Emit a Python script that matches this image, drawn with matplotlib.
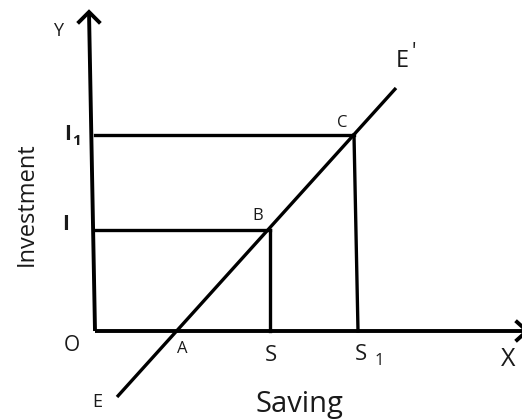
import matplotlib
matplotlib.use("Agg")
import matplotlib.pyplot as plt

# Geometry of the diagram (data units, origin O at 0,0)
y_axis_x = [0, -6]
y_axis_y = [0, 319]
x_axis_x = [0, 432]
x_axis_y = [0, 0]

# saving-investment line E -> E'
line_x = [22, 301]
line_y = [-66, 243]

# points B and C on the line
point_names = ["B", "C"]
point_x = [175, 259]
point_y = [101, 196]
foot_x = [175, 263]   # where the verticals meet the X axis (S, S1)

# labels
tick_y_labels = ["I", "I"]
tick_y_subs = ["", "1"]
tick_x_labels = ["A", "S", "S"]
tick_x_subs = ["", "", "1"]

fig = plt.figure(figsize=(5.22, 4.19), dpi=100)
ax = fig.add_axes([0, 0, 1, 1])
ax.set_xlim(-95, 427)
ax.set_ylim(-88, 331)
ax.axis("off")

font = "Open Sans"
lw_axis = 2.8
lw = 2.4
col = "black"
tcol = "#1a1a1a"

# axes
ax.plot(y_axis_x, y_axis_y, color=col, lw=lw_axis, solid_capstyle="butt")
ax.plot(x_axis_x, x_axis_y, color=col, lw=lw_axis, solid_capstyle="butt")
# arrow heads (open chevrons)
ax.plot([y_axis_x[1] - 10, y_axis_x[1], y_axis_x[1] + 10],
        [y_axis_y[1] - 10, y_axis_y[1], y_axis_y[1] - 10],
        color=col, lw=lw_axis, solid_joinstyle="miter")
ax.plot([x_axis_x[1] - 10, x_axis_x[1], x_axis_x[1] - 10],
        [x_axis_y[1] + 9, x_axis_y[1], x_axis_y[1] - 9],
        color=col, lw=lw_axis, solid_joinstyle="miter", clip_on=True)

# main line
ax.plot(line_x, line_y, color=col, lw=lw, solid_capstyle="butt")

# horizontal and vertical guides
for px, py, fx in zip(point_x, point_y, foot_x):
    ax.plot([0, px], [py, py], color=col, lw=lw)
    ax.plot([px, fx], [py, 0], color=col, lw=lw)

kw = dict(family=font, ha="center", va="center", color=tcol)

# text labels
ax.text(-37, 300, "Y", fontsize=13, **kw)
ax.text(-23, -14, "O", fontsize=15, **kw)
ax.text(2, -71, "E", fontsize=13, **kw)
ax.text(307, 270, "E", fontsize=17, **kw)
ax.text(319, 279, "'", fontsize=15, **kw)
ax.text(413, -28, "X", fontsize=18, **kw)

# y tick labels
ax.text(-29, point_y[0] + 5, tick_y_labels[0], fontsize=15, fontweight="bold", **kw)
ax.text(-27, point_y[1] + 0, tick_y_labels[1], fontsize=15, fontweight="bold", **kw)
ax.text(-18, point_y[1] - 6, tick_y_subs[1], fontsize=11, fontweight="bold", **kw)

# x tick labels
ax.text(87, -18, tick_x_labels[0], fontsize=12, **kw)
ax.text(176, -24, tick_x_labels[1], fontsize=16, **kw)
ax.text(266, -23, tick_x_labels[2], fontsize=16, **kw)
ax.text(284, -30, tick_x_subs[2], fontsize=12, **kw)

# point labels
ax.text(163, 115, point_names[0], fontsize=12, **kw)
ax.text(247, 208, point_names[1], fontsize=12, **kw)

# axis titles
ax.text(204, -73, "Saving", fontsize=21, **kw)
ax.text(-68, 127, "Investment", fontsize=17, rotation=90, **kw)

fig.savefig("out.png", dpi=100)
